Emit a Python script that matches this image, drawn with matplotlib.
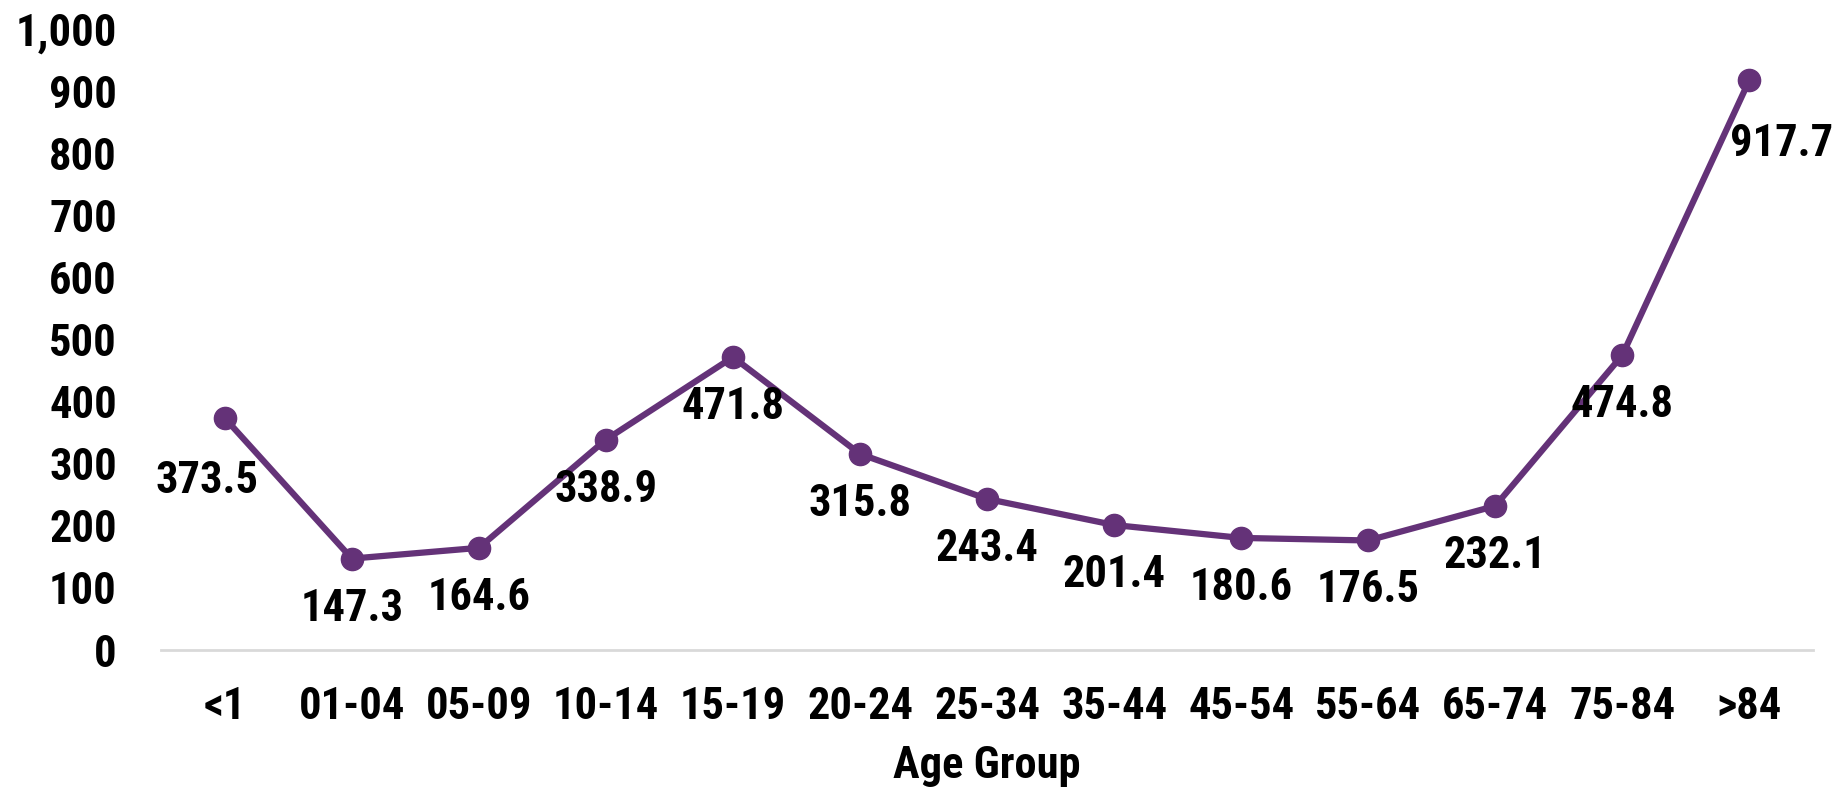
import matplotlib
matplotlib.use("Agg")
import matplotlib.pyplot as plt
from matplotlib.ticker import FuncFormatter

plt.rcParams['font.family'] = ['Roboto Condensed', 'PT Sans Narrow', 'DejaVu Sans']
plt.rcParams['font.weight'] = 'bold'

age_groups = ['<1', '01-04', '05-09', '10-14', '15-19', '20-24', '25-34',
              '35-44', '45-54', '55-64', '65-74', '75-84', '>84']
rates = [373.5, 147.3, 164.6, 338.9, 471.8, 315.8, 243.4,
         201.4, 180.6, 176.5, 232.1, 474.8, 917.7]

purple = '#643278'

fig = plt.figure(figsize=(18.33, 7.87), dpi=100)
ax = fig.add_axes([0.088, 0.174, 0.901, 0.789])

x = list(range(len(age_groups)))
ax.plot(x, rates, color=purple, linewidth=4.5, marker='o', markersize=16,
        solid_capstyle='round', zorder=3)

# data labels sit under each point, with a couple of exceptions at the ends
offsets = {0: (-13, -45), 12: (23, -46)}
for i, v in enumerate(rates):
    dx, dy = offsets.get(i, (0, -36))
    ax.annotate(f'{v:.1f}', (i, v), xytext=(dx, dy), textcoords='offset points',
                ha='center', va='center', fontsize=32, fontweight='bold',
                color='black')

ax.set_xlim(-0.5, len(age_groups) - 0.5)
ax.set_ylim(0, 1000)
ax.set_yticks(range(0, 1001, 100))
ax.yaxis.set_major_formatter(FuncFormatter(lambda v, p: f'{int(v):,}'))
ax.set_xticks(x)
ax.set_xticklabels(age_groups)

for side in ['top', 'right', 'left']:
    ax.spines[side].set_visible(False)
ax.spines['bottom'].set_color('#D9D9D9')
ax.spines['bottom'].set_linewidth(2)

ax.tick_params(axis='both', length=0, labelsize=32)
ax.tick_params(axis='y', pad=32)
ax.tick_params(axis='x', pad=26)

ax.set_xlabel('Age Group', fontsize=32, fontweight='bold', labelpad=12)

fig.savefig('out.png', dpi=100)
